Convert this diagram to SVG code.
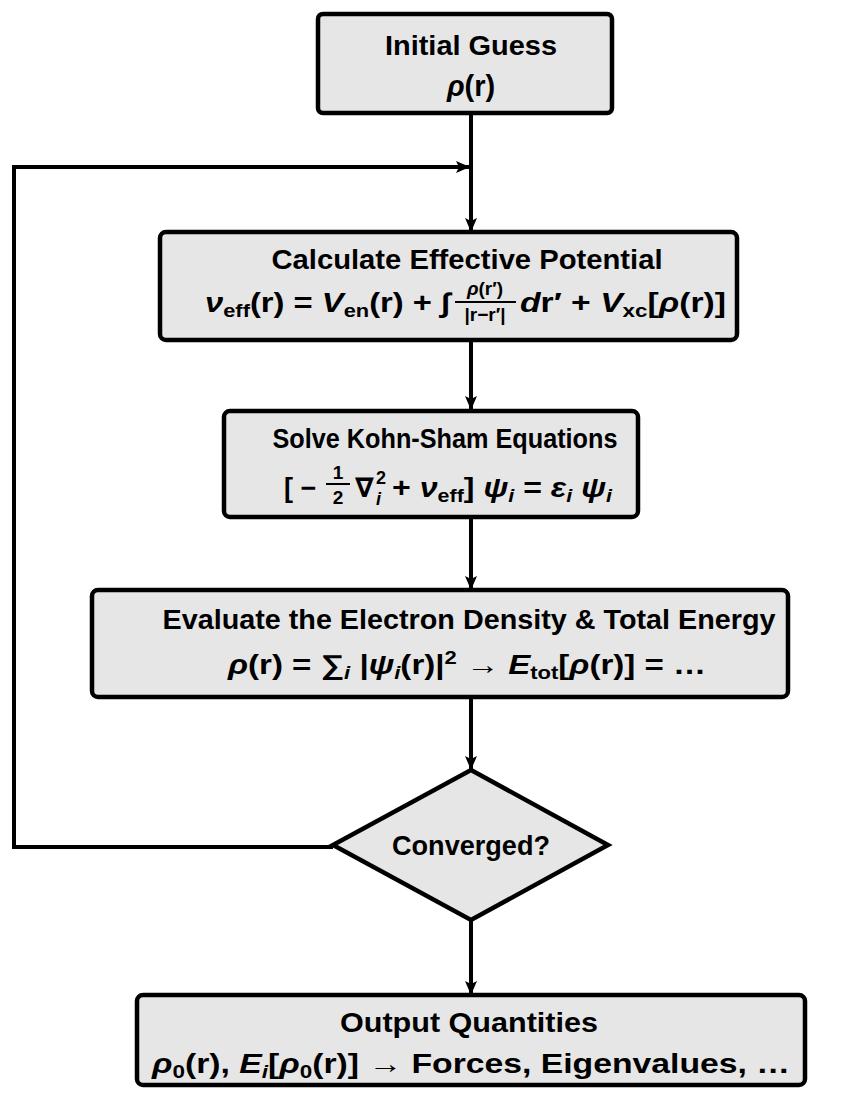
<svg xmlns="http://www.w3.org/2000/svg" width="842" height="1093" viewBox="0 0 842 1093">
<defs>
<style>
.box{fill:#e6e6e6;stroke:#000;stroke-width:4.5}
.t{font-family:"Liberation Sans","DejaVu Sans",sans-serif;font-weight:bold;fill:#000}
.title{font-size:28px;text-anchor:middle}
.f{font-size:27px}
.i{font-style:italic}
.s{font-size:18px}
.c{fill:none;stroke:#000;stroke-width:4}
</style>
<marker id="ah" viewBox="0 0 14 12" refX="13" refY="6" markerWidth="14" markerHeight="12" markerUnits="userSpaceOnUse" orient="auto">
<path d="M0,0 L14,6 L0,12 L3,6 Z" fill="#000"/>
</marker>
</defs>
<rect width="842" height="1093" fill="#fff"/>
<g id="connectors">
<path class="c" d="M471,113 V231" marker-end="url(#ah)"/>
<path class="c" d="M333,847 H14 V167 H469" marker-end="url(#ah)"/>
<path class="c" d="M471,340 V409" marker-end="url(#ah)"/>
<path class="c" d="M471,517 V589" marker-end="url(#ah)"/>
<path class="c" d="M471,697 V769" marker-end="url(#ah)"/>
<path class="c" d="M471,920 V994" marker-end="url(#ah)"/>
</g>
<g id="initial-guess">
<rect class="box" x="318" y="14" width="294" height="99" rx="5"/>
<text class="t title" x="471" y="55" textLength="172" lengthAdjust="spacingAndGlyphs">Initial Guess</text>
<text class="t" x="471" y="96" font-size="29" text-anchor="middle"><tspan class="i">ρ</tspan>(r)</text>
</g>
<g id="effective-potential">
<rect class="box" x="160" y="232" width="577" height="108" rx="6"/>
<text class="t title" x="467" y="269" textLength="391" lengthAdjust="spacingAndGlyphs">Calculate Effective Potential</text>
<text class="t f" x="205" y="312" textLength="245" lengthAdjust="spacingAndGlyphs"><tspan class="i">ν</tspan><tspan class="s" dy="5">eff</tspan><tspan dy="-5">(r) = </tspan><tspan class="i">V</tspan><tspan class="s" dy="5">en</tspan><tspan dy="-5">(r) + ∫</tspan></text>
<text class="t" x="485" y="295" font-size="19" text-anchor="middle"><tspan class="i">ρ</tspan>(r′)</text>
<line x1="455" y1="302" x2="516" y2="302" stroke="#000" stroke-width="2"/>
<text class="t" x="485" y="321" font-size="19" text-anchor="middle">|r−r′|</text>
<text class="t f" x="520" y="312" textLength="206" lengthAdjust="spacingAndGlyphs"><tspan class="i">d</tspan>r′ + <tspan class="i">V</tspan><tspan class="s" dy="5">xc</tspan><tspan dy="-5">[</tspan><tspan class="i">ρ</tspan>(r)]</text>
</g>
<g id="kohn-sham">
<rect class="box" x="224" y="411" width="414" height="106" rx="6"/>
<text class="t title" x="445" y="448" textLength="345" lengthAdjust="spacingAndGlyphs">Solve Kohn-Sham Equations</text>
<text class="t f" x="284" y="497">[ −</text>
<text class="t" x="338" y="479" font-size="19" text-anchor="middle">1</text>
<line x1="326" y1="484" x2="350" y2="484" stroke="#000" stroke-width="2"/>
<text class="t" x="338" y="504" font-size="19" text-anchor="middle">2</text>
<text class="t f" x="355" y="497">∇</text>
<text class="t s" x="376" y="484">2</text>
<text class="t s i" x="376" y="505">i</text>
<text class="t f" x="392" y="497" textLength="220" lengthAdjust="spacingAndGlyphs">+ <tspan class="i">ν</tspan><tspan class="s" dy="5">eff</tspan><tspan dy="-5">] </tspan><tspan class="i">ψ</tspan><tspan class="s i" dy="5">i</tspan><tspan dy="-5"> = </tspan><tspan class="i">ε</tspan><tspan class="s i" dy="5">i</tspan><tspan dy="-5"> </tspan><tspan class="i">ψ</tspan><tspan class="s i" dy="5">i</tspan></text>
</g>
<g id="evaluate-density">
<rect class="box" x="92" y="590" width="696" height="107" rx="6"/>
<text class="t title" x="469" y="629" textLength="613" lengthAdjust="spacingAndGlyphs">Evaluate the Electron Density &amp; Total Energy</text>
<text class="t f" x="228" y="674" textLength="478" lengthAdjust="spacingAndGlyphs"><tspan class="i">ρ</tspan>(r) = ∑<tspan class="s i" dy="5">i</tspan><tspan dy="-5"> |</tspan><tspan class="i">ψ</tspan><tspan class="s i" dy="5">i</tspan><tspan dy="-5">(r)|</tspan><tspan class="s" dy="-10">2</tspan><tspan dy="10"> → </tspan><tspan class="i">E</tspan><tspan class="s" dy="5">tot</tspan><tspan dy="-5">[</tspan><tspan class="i">ρ</tspan>(r)] = …</text>
</g>
<g id="converged">
<polygon class="box" points="471,770 608,845 471,920 333,845"/>
<text class="t title" x="471" y="855" textLength="158" lengthAdjust="spacingAndGlyphs">Converged?</text>
</g>
<g id="output">
<rect class="box" x="137" y="995" width="668" height="90" rx="6"/>
<text class="t title" x="469" y="1032" textLength="258" lengthAdjust="spacingAndGlyphs">Output Quantities</text>
<text class="t f" x="152" y="1073" textLength="638" lengthAdjust="spacingAndGlyphs"><tspan class="i">ρ</tspan><tspan class="s" dy="5">0</tspan><tspan dy="-5">(r), </tspan><tspan class="i">E</tspan><tspan class="s i" dy="5">i</tspan><tspan dy="-5">[</tspan><tspan class="i">ρ</tspan><tspan class="s" dy="5">0</tspan><tspan dy="-5">(r)] → Forces, Eigenvalues, …</tspan></text>
</g>
</svg>
